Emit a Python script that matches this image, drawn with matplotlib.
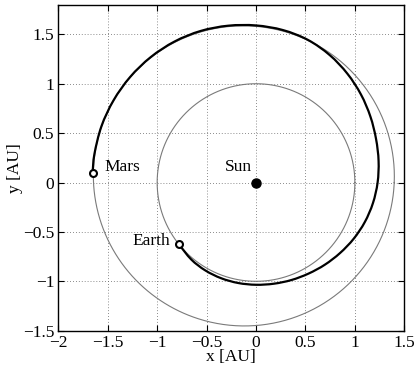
"""
Earth to Mars low-thrust transfer, drawn in the ecliptic plane.
"""

######################################################################
# Load libraries

import numpy as np
import matplotlib as mpl
mpl.use('Agg')
import matplotlib.pyplot as plt
from matplotlib.ticker import FuncFormatter
from matplotlib.path import Path
from matplotlib.patches import PathPatch


######################################################################
# Declare variables and constants

# orbit elements (semi-major axis [AU], eccentricity, perihelion angle [deg])
earthA, earthE, earthPeri = 1.0, 0.0, 0.0
marsA, marsE, marsPeri = 1.524, 0.092, -28.6

# transfer trajectory, heliocentric angle [deg] and radius [AU]
transferAngle = [-141.3, -130, -120, -110, -100, -90, -80, -70, -60, -50,
                 -40, -30, -20, -10, 0, 10, 20, 30, 40, 50, 60, 70, 80,
                 90, 100, 110, 120, 130, 140, 150, 160, 170, 176.7]
transferRadius = [1.0, 1.018, 1.027, 1.031, 1.033, 1.035, 1.04, 1.05, 1.064,
                  1.085, 1.11, 1.14, 1.171, 1.201, 1.23, 1.259, 1.292, 1.336,
                  1.386, 1.438, 1.49, 1.536, 1.567, 1.59, 1.612, 1.633, 1.648,
                  1.657, 1.662, 1.664, 1.664, 1.66, 1.656]

xTicks = [-2, -1.5, -1, -0.5, 0, 0.5, 1, 1.5]
yTicks = [-1.5, -1, -0.5, 0, 0.5, 1, 1.5]

saveName = 'out.png'


######################################################################

def orbit_xy(a, e, peri):
    th = np.radians(np.linspace(0, 360, 721))
    r = a * (1 - e**2) / (1 + e * np.cos(th - np.radians(peri)))
    return r * np.cos(th), r * np.sin(th)


def polar_xy(angle, radius):
    th = np.radians(np.array(angle))
    r = np.array(radius)
    return r * np.cos(th), r * np.sin(th)


def smooth_path(x, y):
    # catmull-rom through the given points, handed to matplotlib as bezier curves
    p = np.column_stack([x, y])
    p = np.vstack([p[0], p, p[-1]])
    verts = [p[1]]
    codes = [Path.MOVETO]
    for i in range(1, len(p) - 2):
        c1 = p[i] + (p[i + 1] - p[i - 1]) / 6.0
        c2 = p[i + 1] - (p[i + 2] - p[i]) / 6.0
        verts += [c1, c2, p[i + 1]]
        codes += [Path.CURVE4] * 3
    return Path(verts, codes)


def tick_fmt(v, pos):
    return ('%g' % v).replace('-', '\u2212')


plt.rcParams['font.family'] = ['Liberation Serif', 'DejaVu Serif']
plt.rcParams['font.size'] = 12.5

fig = plt.figure(figsize=(4.15, 3.7), dpi=100)
ax = fig.add_axes([0.1405, 0.1062, 0.8337, 0.8811])

# planet orbits
ex, ey = orbit_xy(earthA, earthE, earthPeri)
mx, my = orbit_xy(marsA, marsE, marsPeri)
ax.plot(ex, ey, color='#7a7a7a', lw=0.8, zorder=2)
ax.plot(mx, my, color='#7a7a7a', lw=0.8, zorder=2)

# spacecraft path
tx, ty = polar_xy(transferAngle, transferRadius)
ax.add_patch(PathPatch(smooth_path(tx, ty), fill=False, edgecolor='black',
                       lw=1.6, zorder=3))

# bodies
ax.plot([0], [0], 'o', color='black', ms=6.5, zorder=5)
ax.plot([tx[0]], [ty[0]], 'o', mfc='white', mec='black', mew=1.5, ms=5, zorder=5)
ax.plot([tx[-1]], [ty[-1]], 'o', mfc='white', mec='black', mew=1.5, ms=5, zorder=5)

ax.text(-0.176, 0.157, 'Sun', ha='center', va='center')
ax.text(tx[0] - 0.085, ty[0] + 0.03, 'Earth', ha='right', va='center')
ax.text(tx[-1] + 0.12, ty[-1] + 0.065, 'Mars', ha='left', va='center')

# axes styling, boxed with inward ticks and dotted grid
ax.set_xlim(-2, 1.5)
ax.set_ylim(-1.5, 1.8)
ax.set_xticks(xTicks)
ax.set_yticks(yTicks)
ax.xaxis.set_major_formatter(FuncFormatter(tick_fmt))
ax.yaxis.set_major_formatter(FuncFormatter(tick_fmt))
ax.tick_params(direction='in', length=4, width=0.8, top=True, right=True,
               labelsize=12.5, pad=3)
ax.grid(True, linestyle=(0, (1, 2.5)), color='#666666', lw=0.6)
for s in ax.spines.values():
    s.set_linewidth(1.0)

ax.set_xlabel('x [AU]', fontsize=12.5, labelpad=-1)
ax.set_ylabel('y [AU]', fontsize=12.5, labelpad=0)

plt.savefig(saveName, dpi=100)
plt.close('all')
